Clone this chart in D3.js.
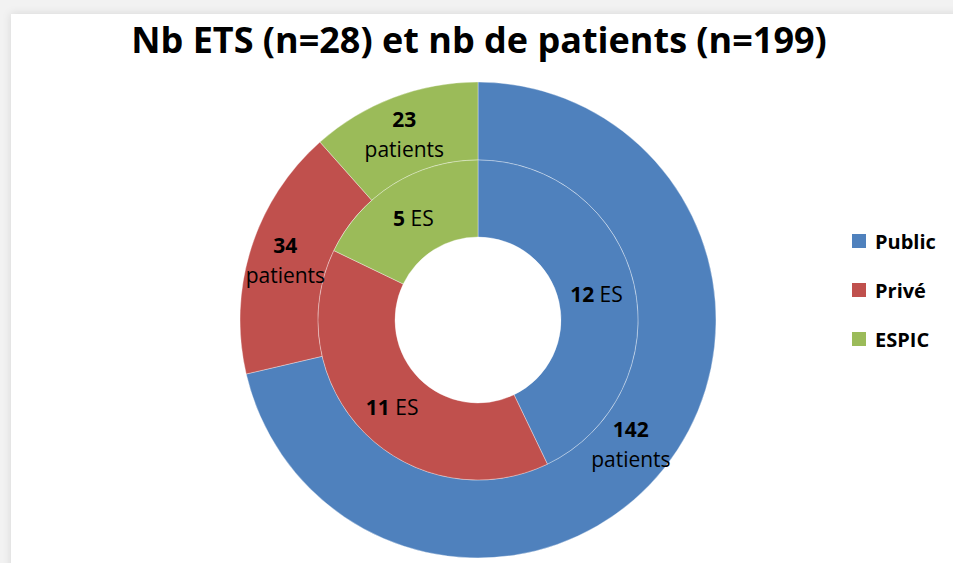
<!DOCTYPE html>
<html>
<head>
<meta charset="utf-8">
<script src="https://cdn.jsdelivr.net/npm/d3@7"></script>
<style>
  body { margin: 0; background: #f0f0f0; }
  svg { display: block; font-family: "Open Sans", sans-serif; }
</style>
</head>
<body>
<script>
var width = 953,
	height = 563;

// data
var categories = ["Public", "Privé", "ESPIC"];
var etsValues = [12, 11, 5];          // inner ring : nb ES
var patientValues = [142, 34, 23];    // outer ring : nb patients
var colors = ["#4f81bd", "#c0504d", "#9bbb59"];
var title = "Nb ETS (n=28) et nb de patients (n=199)";

var cx = 478, cy = 320,
	rHole = 83, rMid = 160, rOut = 238;

var svg = d3.select("body")
		.append("svg")
		.attr("width", width)
		.attr("height", height);

var defs = svg.append("defs");
var f = defs.append("filter").attr("id", "shadow")
	.attr("x", "-5%").attr("y", "-5%").attr("width", "110%").attr("height", "110%");
f.append("feDropShadow").attr("dx", 0).attr("dy", 0)
	.attr("stdDeviation", 4).attr("flood-color", "#000").attr("flood-opacity", 0.12);

svg.append("rect")
	.attr("x", 0).attr("y", 0).attr("width", width).attr("height", height)
	.attr("fill", "#f2f2f2");
svg.append("rect")
	.attr("x", 11).attr("y", 14).attr("width", width).attr("height", height)
	.attr("fill", "#fff")
	.attr("filter", "url(#shadow)");

svg.append("text")
	.attr("x", 479).attr("y", 53)
	.attr("text-anchor", "middle")
	.attr("font-size", 36)
	.attr("font-weight", "bold")
	.attr("fill", "#000")
	.text(title);

var pie = d3.pie().sort(null).value(function(d) { return d; });
var color = d3.scaleOrdinal().domain(d3.range(categories.length)).range(colors);

var g = svg.append("g").attr("transform", "translate(" + cx + "," + cy + ")");

var arcIn = d3.arc().innerRadius(rHole).outerRadius(rMid);
var arcOut = d3.arc().innerRadius(rMid).outerRadius(rOut);

var inner = pie(etsValues),
	outer = pie(patientValues);

g.selectAll("path.out")
	.data(outer)
	.enter().append("path")
	.attr("class", "out")
	.attr("d", arcOut)
	.attr("fill", function(d, i) { return color(i); })
	.attr("stroke", "rgba(255,255,255,0.35)")
	.attr("stroke-width", 1);

g.selectAll("path.in")
	.data(inner)
	.enter().append("path")
	.attr("class", "in")
	.attr("d", arcIn)
	.attr("fill", function(d, i) { return color(i); })
	.attr("stroke", "rgba(255,255,255,0.35)")
	.attr("stroke-width", 1);

// inner labels : "12 ES"
inner.forEach(function(d) {
	var c = arcIn.centroid(d);
	var t = g.append("text")
		.attr("x", c[0]).attr("y", c[1] + 9)
		.attr("text-anchor", "middle")
		.attr("font-size", 21)
		.attr("fill", "#000");
	t.append("tspan").attr("font-weight", "bold").text(d.data);
	t.append("tspan").text(" ES");
});

// outer labels : "142" / "patients"
outer.forEach(function(d) {
	var c = arcOut.centroid(d);
	var t = g.append("text")
		.attr("text-anchor", "middle")
		.attr("font-size", 21)
		.attr("fill", "#000");
	t.append("tspan").attr("x", c[0] - 3).attr("y", c[1] - 7)
		.attr("font-weight", "bold").text(d.data);
	t.append("tspan").attr("x", c[0] - 3).attr("y", c[1] + 23).text("patients");
});

// legend
var legend = svg.append("g").attr("transform", "translate(852,234)");
var item = legend.selectAll("g")
	.data(categories)
	.enter().append("g")
	.attr("transform", function(d, i) { return "translate(0," + (i * 49) + ")"; });
item.append("rect")
	.attr("width", 14).attr("height", 14)
	.attr("fill", function(d, i) { return color(i); });
item.append("text")
	.attr("x", 23).attr("y", 15)
	.attr("font-size", 20)
	.attr("font-weight", "bold")
	.attr("fill", "#000")
	.text(function(d) { return d; });
</script>
</body>
</html>
